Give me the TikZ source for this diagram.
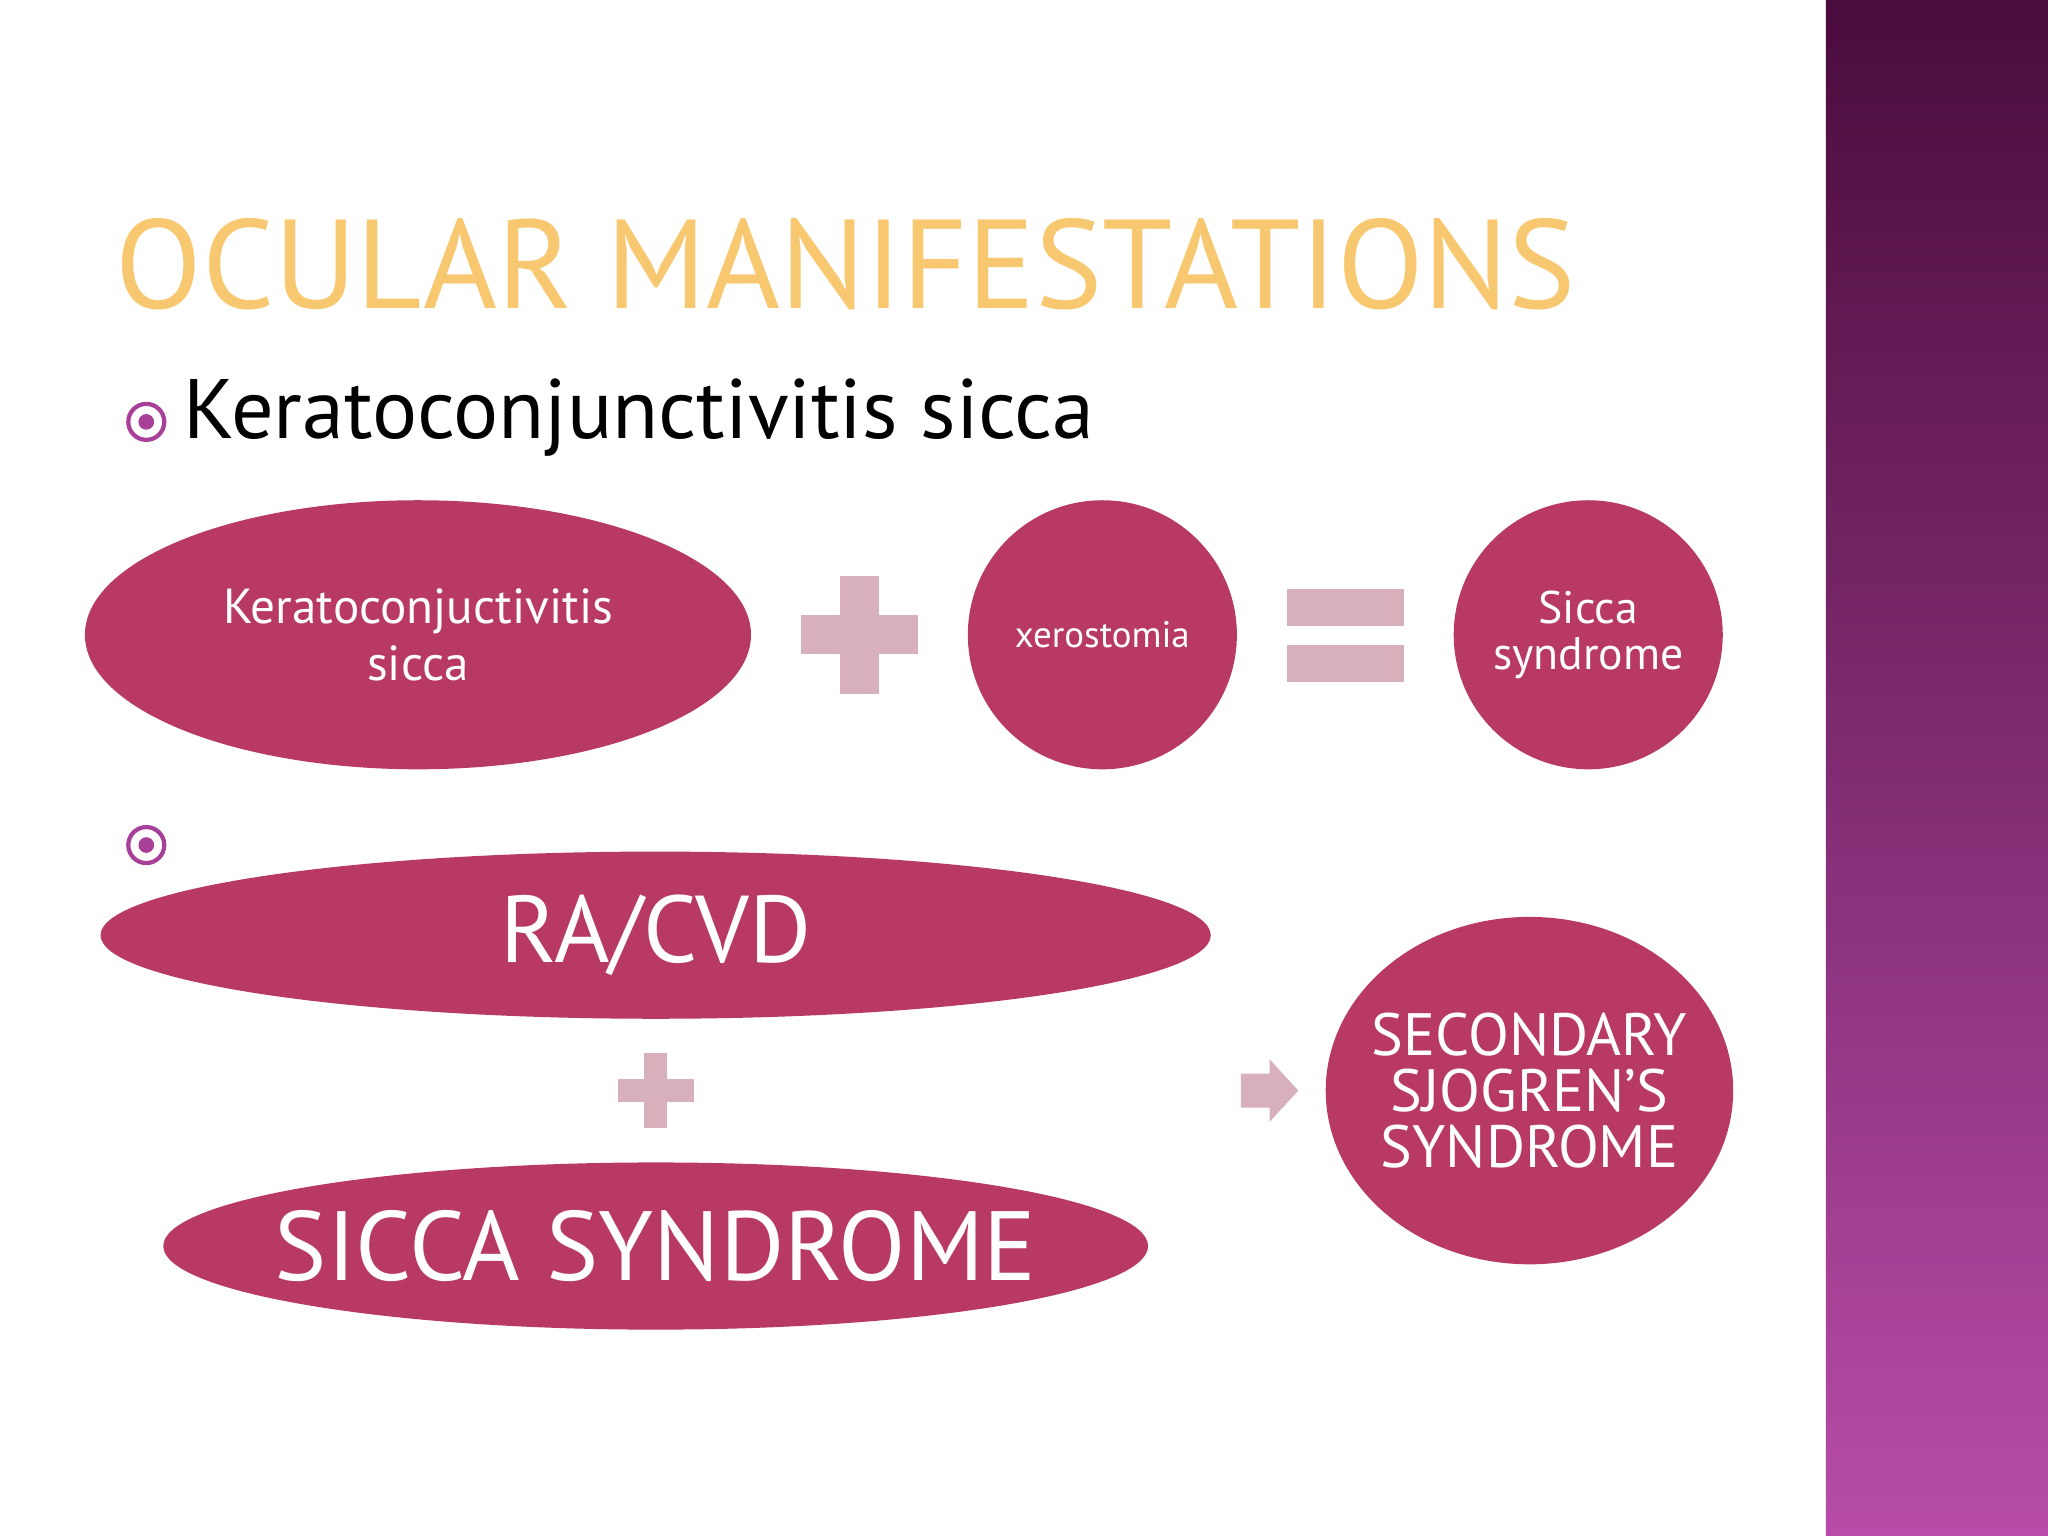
\documentclass[tikz,border=0pt]{standalone}
\usepackage{fontspec}
\setmainfont{PT Sans}
\definecolor{mag}{HTML}{B83A64}
\definecolor{pk}{HTML}{D8B0BC}
\definecolor{bandtop}{HTML}{4A0C3C}
\definecolor{bandbot}{HTML}{B84CA8}
\definecolor{bul}{HTML}{A8409A}
\definecolor{ttl}{HTML}{F8C870}
\begin{document}
\begin{tikzpicture}[x=0.013061cm,y=-0.013061cm,
  bar/.style={fill=pk,draw=none}]
\useasboundingbox (0,0) rectangle (1568,1176);
\fill[white] (0,0) rectangle (1568,1176);
\shade[top color=bandtop,bottom color=bandbot] (1398,0) rectangle (1568,1176);
% title
\node[anchor=west,text=ttl,font=\fontsize{36}{40}\selectfont,inner sep=0] (title) at (88,202) {OCULAR MANIFESTATIONS};
% bullets
\node[circle,draw=bul,line width=1.2pt,minimum size=0.36cm,inner sep=0] (b1) at (112,323) {};
\fill[bul] (b1.center) circle (6);
\node[circle,draw=bul,line width=1.2pt,minimum size=0.36cm,inner sep=0] (b2) at (112,647) {};
\fill[bul] (b2.center) circle (6);
\node[anchor=west,font=\fontsize{24}{28}\selectfont,inner sep=0] (kcs) at (140,320) {Keratoconjunctivitis sicca};
% row 1
\fill[mag] (320,486) ellipse [x radius=255,y radius=103];
\node[text=white,align=center,font=\fontsize{14}{16}\selectfont] (e1) at (320,486) {Keratoconjuctivitis\\sicca};
\fill[bar] (613,471) rectangle (703,501);
\fill[bar] (643,441) rectangle (673,531);
\fill[mag] (844,486) circle (103);
\node[text=white,font=\fontsize{10.5}{12}\selectfont] (c1) at (844,486) {xerostomia};
\fill[bar] (985,451) rectangle (1075,479);
\fill[bar] (985,494) rectangle (1075,522);
\fill[mag] (1216,486) circle (103);
\node[text=white,align=center,font=\fontsize{13}{13}\selectfont] (c2) at (1216,486) {Sicca\\syndrome};
% row 2
\fill[mag] (502,716) ellipse [x radius=425,y radius=64];
\node[text=white,font=\fontsize{27}{30}\selectfont] (ra) at (502,716) {RA/CVD};
\fill[bar] (473,826) rectangle (531,844);
\fill[bar] (493,806) rectangle (511,864);
\fill[mag] (502,954) ellipse [x radius=377,y radius=64];
\node[text=white,font=\fontsize{28}{30}\selectfont] (ss) at (502,954) {SICCA SYNDROME};
\fill[bar] (950,822) -- (972,822) -- (972,811) -- (994,835) -- (972,859) -- (972,848) -- (950,848) -- cycle;
\fill[mag] (1171,835) ellipse [x radius=156,y radius=133];
\node[text=white,align=center,font=\fontsize{17}{16}\selectfont] (sec) at (1171,835) {SECONDARY\\SJOGREN’S\\SYNDROME};
\end{tikzpicture}
\end{document}
